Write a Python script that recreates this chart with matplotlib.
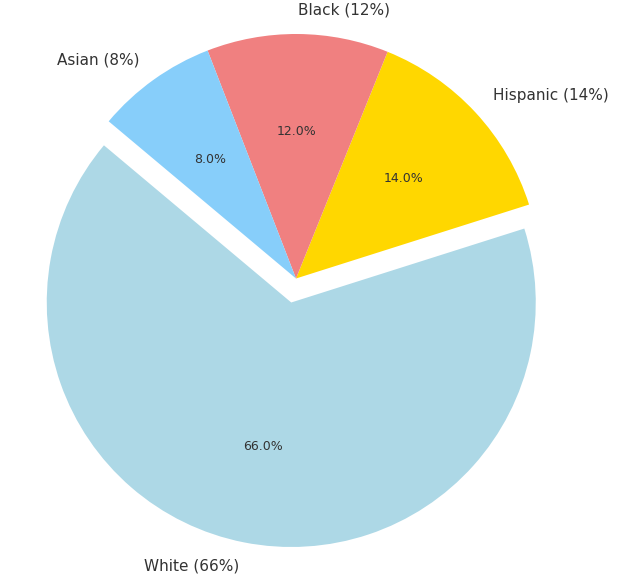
import matplotlib
matplotlib.use('Agg')
import matplotlib.pyplot as plt

labels = ['White', 'Hispanic', 'Black', 'Asian']
sizes = [66, 14, 12, 8]
colors = ['lightblue', 'gold', 'lightcoral', 'lightskyblue']
explode = (0.1, 0, 0, 0)

fig = plt.figure(figsize=(6.18, 5.77), dpi=100)
ax = fig.add_axes([0, 0, 1, 1])

# Etiquetas con porcentaje
pie_labels = [f'{l} ({s}%)' for l, s in zip(labels, sizes)]

wedges, texts, autotexts = ax.pie(sizes, labels=pie_labels, colors=colors, explode=explode,
                                  autopct='%1.1f%%', startangle=140,
                                  textprops={'color': '#333333'})
for t in texts:
    t.set_fontsize(11)
for t in autotexts:
    t.set_fontsize(9)

r = 244.5
cx, cy = 296, 278.5
ax.set_xlim(-cx / r, (618 - cx) / r)
ax.set_ylim(-(577 - cy) / r, cy / r)
ax.set_aspect('equal')
ax.axis('off')

fig.savefig('out.png', dpi=100)
